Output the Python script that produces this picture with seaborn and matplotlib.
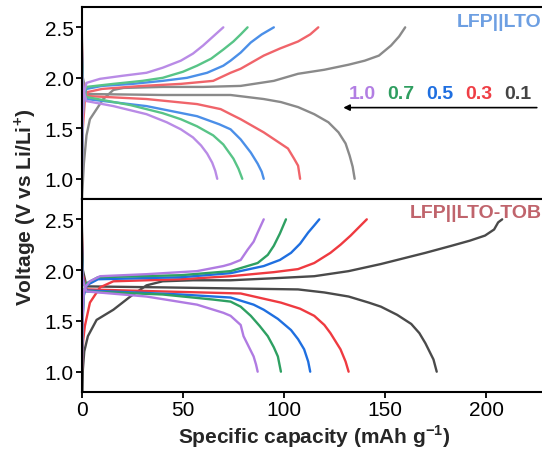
import matplotlib
matplotlib.use("Agg")
import matplotlib.pyplot as plt
import seaborn as sns
import pandas as pd

rates = ["1.0", "0.7", "0.5", "0.3", "0.1"]

# ---- LFP||LTO (top) : (capacity, voltage) ----
top_charge = {
    "1.0": ([0, 0.4, 1.0, 2.3, 9, 20, 32, 40, 49, 55, 60, 65, 70],
            [1.0, 1.6, 1.85, 1.95, 1.99, 2.02, 2.05, 2.1, 2.17, 2.24, 2.32, 2.41, 2.5]),
    "0.7": ([0, 0.4, 1.0, 2.3, 15.6, 30, 40, 50, 57, 64, 70, 75, 78.6, 82],
            [1.0, 1.6, 1.83, 1.91, 1.94, 1.97, 2.0, 2.06, 2.12, 2.19, 2.28, 2.36, 2.43, 2.5]),
    "0.5": ([0, 0.4, 1.0, 2.3, 10, 25, 40, 52, 62, 70, 73.6, 78.6, 83.6, 89, 95],
            [1.0, 1.6, 1.82, 1.89, 1.92, 1.94, 1.97, 2.0, 2.05, 2.12, 2.17, 2.25, 2.35, 2.43, 2.5]),
    "0.3": ([0, 0.5, 1.5, 3, 10, 30, 49, 65, 73.6, 78.6, 90, 98, 107, 113, 117],
            [1.0, 1.5, 1.78, 1.86, 1.89, 1.92, 1.94, 1.97, 2.05, 2.09, 2.22, 2.29, 2.36, 2.43, 2.5]),
    "0.1": ([0, 1.0, 2.3, 4, 7.3, 10.6, 15.6, 20.6, 40, 60, 78.6, 95, 107, 120, 132, 140, 147, 153, 157, 160],
            [0.78, 1.15, 1.43, 1.59, 1.69, 1.79, 1.88, 1.9, 1.91, 1.91, 1.92, 1.97, 2.04, 2.08, 2.13, 2.17, 2.22, 2.32, 2.41, 2.5]),
}
top_discharge = {
    "1.0": ([0, 0.5, 2.3, 15.6, 32, 42, 49, 55, 59, 62, 64.5, 66, 67],
            [2.1, 1.9, 1.77, 1.72, 1.64, 1.56, 1.49, 1.41, 1.33, 1.25, 1.16, 1.08, 1.0]),
    "0.7": ([0, 0.5, 2.3, 24, 40, 49, 57, 65, 70, 75, 77.5, 79.4],
            [2.2, 1.92, 1.81, 1.73, 1.65, 1.59, 1.52, 1.43, 1.34, 1.2, 1.1, 1.0]),
    "0.5": ([0, 0.5, 2.3, 32, 57, 68, 73.6, 78.6, 83.6, 87, 89, 90],
            [2.28, 1.93, 1.79, 1.72, 1.62, 1.54, 1.49, 1.39, 1.26, 1.15, 1.07, 1.0]),
    "0.3": ([0, 0.5, 2.3, 32, 57, 68.7, 73.6, 78.6, 90, 102, 105, 107, 108],
            [2.35, 1.95, 1.82, 1.79, 1.74, 1.69, 1.64, 1.59, 1.46, 1.3, 1.2, 1.13, 1.0]),
    "0.1": ([0, 0.5, 2.3, 40, 73.6, 90, 98.5, 107, 115, 122, 127, 130.5, 132.5, 134, 135],
            [2.45, 2.0, 1.84, 1.83, 1.83, 1.79, 1.76, 1.71, 1.64, 1.56, 1.46, 1.35, 1.23, 1.12, 1.0]),
}

# ---- LFP||LTO-TOB (bottom) ----
bot_charge = {
    "1.0": ([0, 0.4, 1.0, 2.0, 4, 9, 32, 57, 70, 73.6, 78.6, 82, 85, 87, 90],
            [1.02, 1.55, 1.8, 1.84, 1.89, 1.94, 1.96, 1.99, 2.04, 2.06, 2.1, 2.2, 2.28, 2.37, 2.5]),
    "0.7": ([0, 0.4, 1.0, 2.3, 8, 49, 73.6, 78.6, 87, 92, 95, 98, 101],
            [1.02, 1.55, 1.8, 1.87, 1.93, 1.95, 1.99, 2.02, 2.07, 2.15, 2.24, 2.36, 2.5]),
    "0.5": ([0, 0.4, 1.0, 2.3, 8, 49, 73.6, 90, 98, 103.5, 108, 112, 115, 117.5],
            [1.02, 1.5, 1.75, 1.85, 1.91, 1.93, 1.97, 2.04, 2.1, 2.17, 2.26, 2.37, 2.44, 2.5]),
    "0.3": ([0, 0.6, 1.5, 4, 9, 15.6, 49, 73.6, 95, 107, 115, 123, 128, 133, 137, 141],
            [1.0, 1.3, 1.45, 1.68, 1.83, 1.89, 1.91, 1.94, 1.98, 2.01, 2.07, 2.17, 2.25, 2.34, 2.42, 2.5]),
    "0.1": ([0.3, 0.5, 1.2, 3, 7.3, 15.6, 24, 32, 40, 55, 73.6, 95, 115, 132, 148, 158, 170, 183, 192, 199.5, 204, 206, 208],
            [0.8, 1.02, 1.2, 1.35, 1.51, 1.61, 1.74, 1.85, 1.89, 1.9, 1.9, 1.92, 1.94, 1.99, 2.06, 2.11, 2.17, 2.24, 2.29, 2.34, 2.4, 2.47, 2.5]),
}
bot_discharge = {
    "1.0": ([0, 0.5, 2.3, 32, 57, 70, 73.6, 78.6, 80, 82.5, 85, 86.2, 87],
            [2.1, 1.9, 1.79, 1.74, 1.66, 1.58, 1.55, 1.46, 1.35, 1.25, 1.15, 1.07, 1.0]),
    "0.7": ([0, 0.5, 2.3, 40, 65, 73.6, 78.6, 83.6, 88, 92, 95, 97, 98.5],
            [2.2, 1.9, 1.79, 1.76, 1.71, 1.69, 1.64, 1.55, 1.45, 1.35, 1.24, 1.15, 1.0]),
    "0.5": ([0, 0.5, 2.3, 49, 73.6, 85, 90, 97, 103.5, 107, 110, 112, 113],
            [2.28, 1.92, 1.8, 1.76, 1.73, 1.66, 1.61, 1.52, 1.41, 1.32, 1.22, 1.1, 1.0]),
    "0.3": ([0, 0.5, 2.3, 40, 78.6, 98.5, 108, 115, 120, 123, 128, 130.5, 132],
            [2.37, 1.95, 1.81, 1.79, 1.77, 1.68, 1.62, 1.55, 1.46, 1.38, 1.22, 1.1, 1.0]),
    "0.1": ([0, 0.5, 2.3, 40, 73.6, 107, 120, 132, 142, 148, 156, 163, 167, 170, 174, 175.6],
            [2.45, 2.0, 1.84, 1.83, 1.82, 1.81, 1.78, 1.74, 1.68, 1.64, 1.56, 1.47, 1.38, 1.28, 1.12, 1.0]),
}

top_colors = {"1.0": "#b98be6", "0.7": "#58c487", "0.5": "#4b8fe8", "0.3": "#f0646a", "0.1": "#8a8a8a"}
bot_colors = {"1.0": "#b07be2", "0.7": "#2ea062", "0.5": "#1f6fe0", "0.3": "#ef3a40", "0.1": "#4a4a4a"}
label_colors = {"1.0": "#b27ee3", "0.7": "#2f9e60", "0.5": "#1f6fe0", "0.3": "#ef3e45", "0.1": "#444444"}

x_ticks = [0, 50, 100, 150, 200]
y_ticks = [1.0, 1.5, 2.0, 2.5]

sns.set_style("ticks")
plt.rcParams["font.family"] = ["Liberation Sans", "DejaVu Sans"]
plt.rcParams["mathtext.fontset"] = "custom"
plt.rcParams["mathtext.rm"] = "Liberation Sans"
plt.rcParams["mathtext.bf"] = "Liberation Sans:bold"

fig = plt.figure(figsize=(5.42, 4.52), dpi=100)
ax_top = fig.add_axes([0.151, 0.5575, 0.852, 0.4245])
ax_bot = fig.add_axes([0.151, 0.1305, 0.852, 0.427], sharex=ax_top)


def draw(ax, charge, discharge, colors):
    for r in rates[::-1]:
        for data in (charge, discharge):
            cap, volt = data[r]
            df = pd.DataFrame({"cap": cap, "V": volt})
            sns.lineplot(data=df, x="cap", y="V", sort=False, estimator=None,
                         color=colors[r], lw=1.7, ax=ax)


draw(ax_top, top_charge, top_discharge, top_colors)
draw(ax_bot, bot_charge, bot_discharge, bot_colors)

for ax in (ax_top, ax_bot):
    ax.set_xlim(0, 228.5)
    ax.set_ylim(0.8, 2.7)
    ax.set_yticks(y_ticks)
    ax.set_yticklabels([f"{v:.1f}" for v in y_ticks])
    ax.set_xlabel("")
    ax.set_ylabel("")
    for s in ax.spines.values():
        s.set_linewidth(1.5)
        s.set_color("black")
    ax.tick_params(axis="both", width=1.3, length=4, labelsize=15, direction="out",
                   colors="black", pad=2)

ax_bot.set_xticks(x_ticks)
ax_top.tick_params(axis="x", bottom=False, labelbottom=False)

fig.text(457 / 542, 1 - 22.5 / 452, "LFP||LTO", ha="left", va="center",
         color="#6d9fe2", fontsize=14, fontweight="bold")
fig.text(410 / 542, 1 - 214 / 452, "LFP||LTO-TOB", ha="left", va="center",
         color="#c0646c", fontsize=14, fontweight="bold")

label_x = [139, 158, 177, 196.5, 215.5]
for r, xx in zip(rates, label_x):
    ax_top.text(xx, 1.84, r, ha="center", va="center", color=label_colors[r],
                fontsize=14, fontweight="bold")
ax_top.annotate("", xy=(128, 1.705), xytext=(226.5, 1.705),
                arrowprops=dict(arrowstyle="-|>", color="black", lw=1.2, mutation_scale=9))

fig.text(0.047, 0.54, r"Voltage (V vs Li/Li$^{\mathbf{+}}$)", rotation=90, ha="center", va="center",
         fontsize=15, fontweight="bold")
fig.text(0.579, 0.033, r"Specific capacity (mAh g$^{\mathbf{-1}}$)", ha="center", va="center",
         fontsize=15, fontweight="bold")

fig.savefig("out.png", dpi=100)
